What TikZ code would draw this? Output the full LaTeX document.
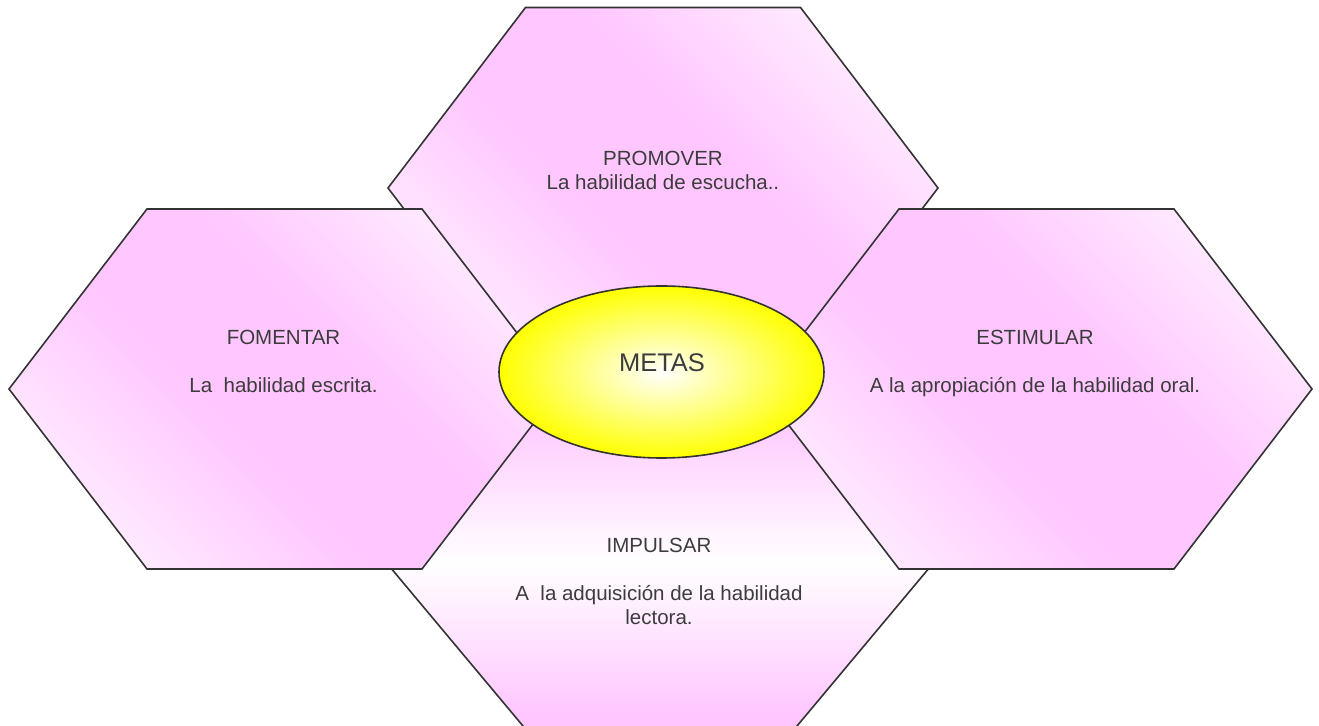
\documentclass[tikz,border=0pt]{standalone}
\usepackage{fontspec}
\setmainfont{Liberation Sans}
\definecolor{hexpink}{RGB}{255,198,255}
\definecolor{linec}{RGB}{51,51,51}
\definecolor{txtc}{RGB}{60,60,60}
\pgfdeclarehorizontalshading{hexdiag}{100bp}{color(0bp)=(white); color(14bp)=(white); color(43bp)=(hexpink); color(57bp)=(hexpink); color(86bp)=(white); color(100bp)=(white)}
\pgfdeclareverticalshading{hexvert}{100bp}{color(0bp)=(hexpink); color(27bp)=(hexpink); color(50bp)=(white); color(73bp)=(hexpink); color(100bp)=(hexpink)}
\newcommand\hexlines[1]{\begin{tabular}[t]{@{}c@{}}#1\end{tabular}}
\tikzset{
  hexbox/.style={draw=linec, line width=0.8pt, line join=miter},
  diagshade/.style={hexbox, shading=hexdiag, shading angle=45},
  vertshade/.style={hexbox, shading=hexvert},
  goalshape/.style={draw=linec, line width=0.8pt, inner color=white, outer color=yellow},
  hextext/.style={text=txtc, font=\fontsize{10.25}{12}\selectfont, anchor=base, inner sep=0pt},
  goaltext/.style={text=txtc, font=\fontsize{12.75}{15}\selectfont, anchor=base, inner sep=0pt}
}
\begin{document}
\begin{tikzpicture}[x=0.5pt,y=-0.5pt]
\useasboundingbox (0,0) rectangle (1319,726);
% top hexagon
\shadedraw[diagshade] (388,188) -- (525.5,7.5) -- (800.5,7.5) -- (938,188) -- (800.5,368.5) -- (525.5,368.5) -- cycle;
% bottom hexagon
\shadedraw[vertshade] (385,561) -- (522,396) -- (798,396) -- (935,561) -- (794.5,729) -- (525.5,729) -- cycle;
% left hexagon
\shadedraw[diagshade] (9,389) -- (147,209) -- (422,209) -- (560,389) -- (422,569) -- (147,569) -- cycle;
% right hexagon
\shadedraw[diagshade] (761,389) -- (899,209) -- (1174,209) -- (1312,389) -- (1174,569) -- (899,569) -- cycle;
% central ellipse
\shadedraw[goalshape] (661.5,372) ellipse [x radius=162.5, y radius=86];
% texts
\node[hextext] (promover) at (663,166) {\hexlines{PROMOVER\\La habilidad de escucha..}};
\node[hextext] (fomentar) at (283.5,345) {\hexlines{FOMENTAR\\ \\La\ \ habilidad escrita.}};
\node[hextext] (estimular) at (1035,345) {\hexlines{ESTIMULAR\\ \\A la apropiación de la habilidad oral.}};
\node[hextext] (impulsar) at (659,553) {\hexlines{IMPULSAR\\ \\A\ \ la adquisición de la habilidad\\lectora.}};
\node[goaltext] (metas) at (662,372) {METAS};
\end{tikzpicture}
\end{document}
